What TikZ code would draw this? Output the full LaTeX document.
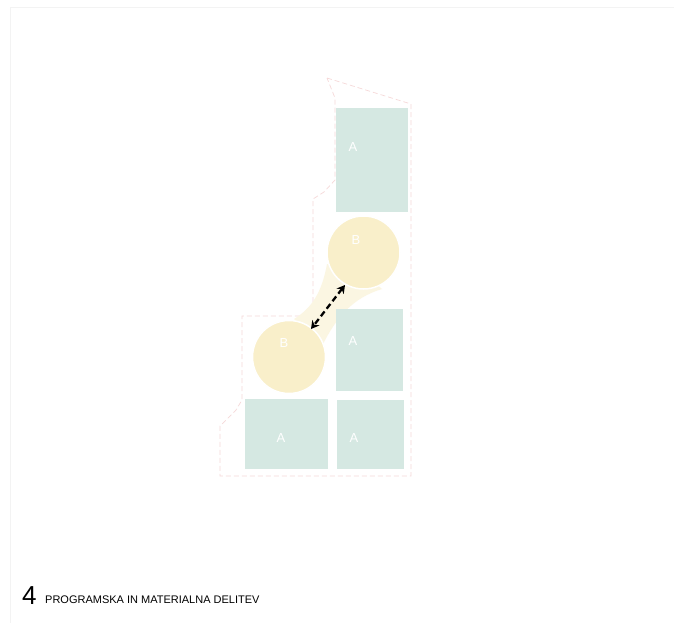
\documentclass[tikz,border=0pt]{standalone}
\usepackage{fontspec}
\setmainfont{Liberation Sans}
\usetikzlibrary{arrows.meta}
\definecolor{afill}{HTML}{D5E8E2}
\definecolor{bfill}{HTML}{F9EFCA}
\definecolor{neck}{HTML}{FBF6E2}
\definecolor{outl}{HTML}{F6D9D9}
\definecolor{frame}{HTML}{F3F3F3}
\tikzset{
  ablock/.style={fill=afill, draw=none},
  bcirc/.style={circle, fill=bfill, draw=white, line width=1.5pt, minimum size=73pt, inner sep=0pt},
  lab/.style={text=white, font=\fontsize{13}{13}\selectfont, inner sep=0pt},
  site/.style={draw=outl, dashed, dash pattern=on 5pt off 3pt, line width=0.7pt},
  link/.style={draw=black, line width=2.3pt, dash pattern=on 6pt off 3.5pt, {Stealth[length=8pt,width=9pt]}-{Stealth[length=8pt,width=9pt]}}
}
\begin{document}
\begin{tikzpicture}[x=1pt,y=-1pt]
\useasboundingbox (0,0) rectangle (674,623);
\fill[white] (0,0) rectangle (674,623);
\draw[frame, line width=0.8pt] (10,623) -- (10,7) -- (674,7);
% site outline
\draw[site] (327,78) -- (411,104) -- (411,476) -- (220,476) -- (220,426) -- (236,410) -- (242,400) -- (242,316) -- (313,316) -- (313,199) -- (324,192) -- (335,180) -- (335,98) -- cycle;
% neck between circles
\fill[neck] (327,264) .. controls (322,292) and (312,308) .. (294,319) -- (322,346) .. controls (336,318) and (352,298) .. (382,289) -- (360,270) -- cycle;
% A blocks
\node[ablock, minimum width=72pt, minimum height=104pt, inner sep=0pt] (a1) at (372,160) {};
\node[ablock, minimum width=67pt, minimum height=82pt, inner sep=0pt] (a2) at (369.5,350) {};
\node[ablock, minimum width=83pt, minimum height=70pt, inner sep=0pt] (a3) at (286.5,434) {};
\node[ablock, minimum width=67pt, minimum height=69pt, inner sep=0pt] (a4) at (370,434.5) {};
% B circles
\node[bcirc] (b1) at (363.5,252.5) {};
\node[bcirc] (b2) at (289,357) {};
% labels
\node[lab] (la1) at (353,147) {A};
\node[lab] (lb1) at (356,240) {B};
\node[lab] (la2) at (353,341) {A};
\node[lab] (lb2) at (284,343) {B};
\node[lab] (la3) at (281,438) {A};
\node[lab] (la4) at (354,438) {A};
% link arrow
\coordinate (p1) at (345,285);
\coordinate (p2) at (311,329);
\draw[link] (p1) -- (p2);
% title
\node[anchor=base west, inner sep=0pt, font=\fontsize{26}{26}\selectfont] (num) at (22,604) {4};
\node[anchor=base west, inner sep=0pt, font=\fontsize{11}{11}\selectfont] (title) at (45,603) {PROGRAMSKA IN MATERIALNA DELITEV};
\end{tikzpicture}
\end{document}
